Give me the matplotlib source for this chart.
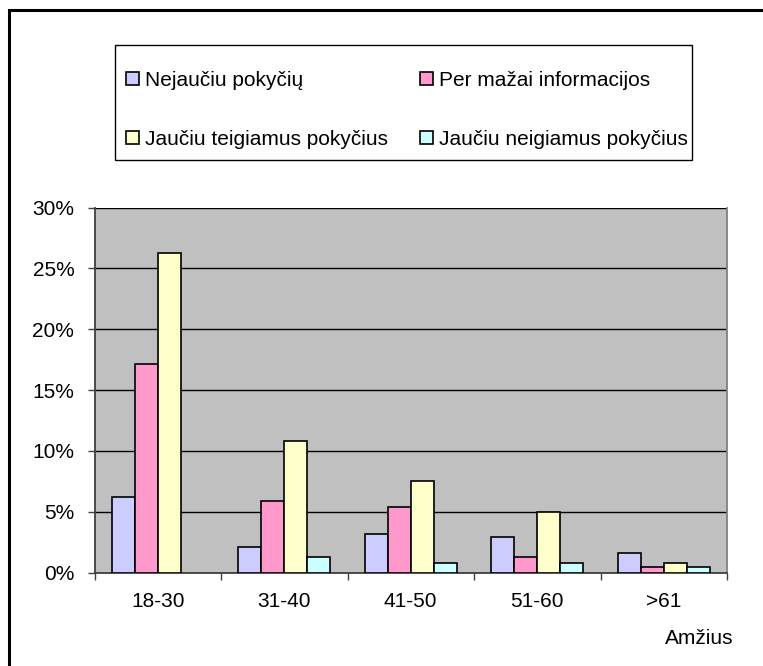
import matplotlib
matplotlib.use("Agg")
import matplotlib.pyplot as plt
from matplotlib.patches import Rectangle, Patch
from matplotlib.ticker import FuncFormatter
import numpy as np

plt.rcParams['font.family'] = ['Liberation Sans', 'DejaVu Sans']

categories = ["18-30", "31-40", "41-50", "51-60", ">61"]
series_names = ["Nejaučiu pokyčių", "Per mažai informacijos",
                "Jaučiu teigiamus pokyčius", "Jaučiu neigiamus pokyčius"]
nejauciu = [6.2, 2.1, 3.2, 2.9, 1.6]
per_mazai = [17.1, 5.9, 5.4, 1.3, 0.45]
teigiamus = [26.3, 10.8, 7.5, 5.0, 0.8]
neigiamus = [np.nan, 1.25, 0.8, 0.8, 0.45]
colors = ["#CCCCFF", "#FF99CC", "#FFFFCC", "#CCFFFF"]
y_ticks = [0, 5, 10, 15, 20, 25, 30]
x_label = "Amžius"

FS = 15
W, H = 763, 666
fig = plt.figure(figsize=(W / 100, H / 100), dpi=100)

# outer chart border
fig.patches.append(Rectangle((9 / W, -0.01), 1.0, 1 - 10.5 / H + 0.01,
                             transform=fig.transFigure, fill=False,
                             edgecolor="black", linewidth=2.2, zorder=0))

ax = fig.add_axes([94.5 / W, (H - 572.5) / H, 632.5 / W, 365 / H])
ax.set_facecolor("#C0C0C0")

data = [nejauciu, per_mazai, teigiamus, neigiamus]
x = np.arange(len(categories))
w = 1 / 5.5
for j, (vals, c, name) in enumerate(zip(data, colors, series_names)):
    ax.bar(x + (j - 1.5) * w, vals, width=w, color=c, edgecolor="black",
           linewidth=1.2, zorder=3, label=name)

ax.set_xlim(-0.5, len(categories) - 0.5)
ax.set_ylim(0, 30)
ax.set_yticks(y_ticks)
ax.yaxis.set_major_formatter(FuncFormatter(lambda v, p: f"{int(v)}%"))
ax.grid(axis="y", color="black", linewidth=1.0, zorder=1)
ax.set_axisbelow(True)

ax.set_xticks(np.arange(len(categories) + 1) - 0.5)
ax.set_xticklabels([])
ax.set_xticks(x, minor=True)
ax.set_xticklabels(categories, minor=True, fontsize=FS)
ax.tick_params(axis="x", which="minor", length=0, pad=14)
ax.tick_params(axis="x", which="major", length=5, width=1, color="#404040")
ax.tick_params(axis="y", length=5, width=1, color="#404040", labelsize=FS, pad=9.5)

for s in ["left", "bottom"]:
    ax.spines[s].set_color("#404040")
    ax.spines[s].set_linewidth(1.3)
ax.spines["right"].set_color("#808080")
ax.spines["right"].set_linewidth(1.3)
ax.spines["top"].set_visible(False)

fig.text(733 / W, 1 - 638 / H, x_label, ha="right", va="center", fontsize=FS)

# legend frame
lx0, ly0, lx1, ly1 = 115, 45, 692, 160
fig.patches.append(Rectangle((lx0 / W, 1 - ly1 / H), (lx1 - lx0) / W, (ly1 - ly0) / H,
                             transform=fig.transFigure, fill=False,
                             edgecolor="black", linewidth=1.0))
order = [0, 2, 1, 3]
proxies = [Patch(facecolor=colors[i], edgecolor="black", linewidth=1.2) for i in order]
labels = [series_names[i] for i in order]
fig.legend(proxies, labels, ncol=2, loc="upper left",
           bbox_to_anchor=(126 / W, 1 - 71 / H), frameon=False, fontsize=FS,
           handlelength=0.6, handleheight=0.6, handletextpad=0.3,
           columnspacing=1.55, labelspacing=1.92, borderpad=0, borderaxespad=0)

fig.savefig("out.png", dpi=100)
